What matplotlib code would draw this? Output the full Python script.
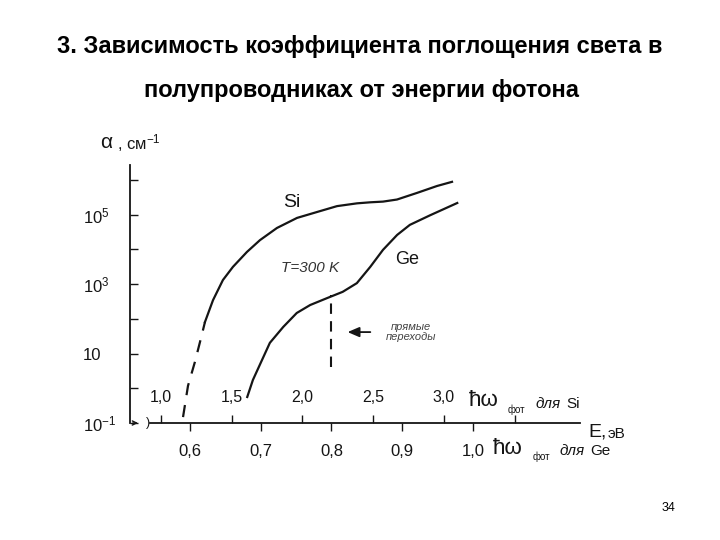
import matplotlib
matplotlib.use('Agg')
import matplotlib.pyplot as plt
import numpy as np
from matplotlib.ticker import NullLocator

plt.rcParams['font.family'] = ['Liberation Sans', 'DejaVu Sans']
plt.rcParams['mathtext.fontset'] = 'custom'
plt.rcParams['mathtext.rm'] = 'Liberation Sans'
plt.rcParams['mathtext.it'] = 'Liberation Sans:italic'

title1 = '3. Зависимость коэффициента поглощения света в'
title2 = 'полупроводниках от энергии фотона'

# Si: photon energy (eV) vs log10(alpha, cm^-1); dashed part near the edge
si_dash_e = [1.156, 1.191, 1.240, 1.290, 1.311]
si_dash_lg = [-0.83, 0.07, 0.76, 1.56, 1.91]
si_e = [1.311, 1.368, 1.438, 1.509, 1.608, 1.700, 1.820, 1.962, 2.103,
        2.245, 2.386, 2.480, 2.570, 2.669, 2.810, 2.952, 3.058]
si_lg = [1.91, 2.54, 3.12, 3.50, 3.93, 4.27, 4.62, 4.91, 5.08,
         5.25, 5.33, 5.36, 5.38, 5.44, 5.63, 5.83, 5.95]

# Ge: photon energy (eV, lower scale) vs log10(alpha)
ge_e = [0.681, 0.689, 0.702, 0.713, 0.732, 0.751, 0.770, 0.794,
        0.816, 0.836, 0.855, 0.873, 0.893, 0.911, 0.940, 0.978]
ge_lg = [-0.25, 0.24, 0.82, 1.31, 1.77, 2.17, 2.40, 2.60,
         2.78, 3.03, 3.50, 3.99, 4.42, 4.71, 4.99, 5.34]

# direct transitions marker (Ge)
direct_e = [0.8, 0.8]
direct_lg = [0.61, 2.69]

si_ticks = [1.0, 1.5, 2.0, 2.5, 3.0, 3.5]
si_labels = ['1,0', '1,5', '2,0', '2,5', '3,0', '']
ge_ticks = [0.6, 0.7, 0.8, 0.9, 1.0]
ge_labels = ['0,6', '0,7', '0,8', '0,9', '1,0']
y_ticks = [-1, 0, 1, 2, 3, 4, 5, 6]
y_labels = ['$10^{-1}$', '', '10', '', '$10^3$', '', '$10^5$', '']


def ge_to_si(e):
    return 5.0 * np.asarray(e) - 1.795


def si_to_ge(e):
    return (np.asarray(e) + 1.795) / 5.0


def px(x, y):
    return x / 720, 1 - y / 540


k = '#151515'
fig = plt.figure(figsize=(7.2, 5.4), dpi=100)
ax = fig.add_axes([130 / 720, 1 - 423 / 540, 450 / 720, 258 / 540])
ax.set_yscale('log')
ax.set_xlim(0.781, 3.963)
ax.set_ylim(0.1, 10 ** 6.435)
for s in ['top', 'right', 'bottom']:
    ax.spines[s].set_visible(False)
ax.spines['left'].set_color(k)
ax.spines['left'].set_linewidth(1.3)

# curves
ax.plot(si_dash_e, 10 ** np.array(si_dash_lg), color=k, lw=1.6, dashes=(5.5, 4.5))
ax.plot(si_e, 10 ** np.array(si_lg), color=k, lw=1.6)
ax.plot(ge_to_si(ge_e), 10 ** np.array(ge_lg), color=k, lw=1.6)
ax.plot(ge_to_si(direct_e), 10 ** np.array(direct_lg), color=k, lw=1.5, dashes=(5, 3.5))

ax.annotate('', xy=(2.30, 10 ** 1.62), xytext=(2.50, 10 ** 1.62),
            arrowprops=dict(arrowstyle='-|>,head_length=0.7,head_width=0.3',
                            color=k, lw=1.3))

# annotations
ax.text(1.927, 10 ** 5.34, 'Si', fontsize=14, ha='center', va='center', color=k)
ax.text(2.74, 10 ** 3.70, 'Ge', fontsize=13, ha='center', va='center', color=k)
ax.text(2.054, 10 ** 3.47, 'T=300 K', fontsize=11, style='italic',
        ha='center', va='center', color='#333333')
ax.text(2.768, 10 ** 1.62, 'прямые\nпереходы', fontsize=8, style='italic',
        ha='center', va='center', linespacing=1.1, color='#444444')

# Si scale (ticks up, labels above axis)
ax.set_xticks(si_ticks, si_labels)
ax.tick_params(axis='x', direction='in', length=6, width=1, pad=-24,
               labelsize=11.5, colors=k)

# y axis
ax.set_yticks([10.0 ** v for v in y_ticks], y_labels)
ax.yaxis.set_minor_locator(NullLocator())
ax.tick_params(axis='y', direction='in', length=6, width=1, pad=34,
               labelsize=12, colors=k)
for lab in ax.get_yticklabels():
    lab.set_ha('left')

# Ge scale (ticks down, labels below axis)
sec = ax.secondary_xaxis('bottom', functions=(si_to_ge, ge_to_si))
sec.set_xticks(ge_ticks, ge_labels)
sec.tick_params(direction='out', length=6, width=1, pad=9, labelsize=12, colors=k)
sec.spines['bottom'].set_visible(False)

# axis line with break near origin
ax.plot([0.045, 1.0], [0, 0], transform=ax.transAxes, color=k, lw=1.3, clip_on=False)
ax.annotate('', xy=(0.024, 0), xytext=(0, 0), xycoords='axes fraction',
            arrowprops=dict(arrowstyle='->,head_length=0.3,head_width=0.15', lw=1, color=k))
ax.text(0.039, 0, ')', transform=ax.transAxes, ha='center', va='center', fontsize=9, color=k)

# axis titles
fig.text(*px(100, 142), 'α', fontsize=15, ha='left', va='center', color=k)
fig.text(*px(117, 143), ', см$^{-1}$', fontsize=12, ha='left', va='center', color=k)
fig.text(*px(588, 432), 'E,', fontsize=14, ha='left', va='center', color=k)
fig.text(*px(608, 434), 'эВ', fontsize=11, ha='left', va='center', color=k)

fig.text(*px(469, 401), 'ħω', fontsize=16, ha='left', va='center', color=k)
fig.text(*px(508, 410), 'фот', fontsize=7, ha='left', va='center', color=k)
fig.text(*px(536, 404), 'для', fontsize=11, style='italic', ha='left', va='center', color=k)
fig.text(*px(566, 404), 'Si', fontsize=11, ha='left', va='center', color=k)

fig.text(*px(493, 448), 'ħω', fontsize=16, ha='left', va='center', color=k)
fig.text(*px(533, 457), 'фот', fontsize=7, ha='left', va='center', color=k)
fig.text(*px(560, 451), 'для', fontsize=11, style='italic', ha='left', va='center', color=k)
fig.text(*px(590, 451), 'Ge', fontsize=11, ha='left', va='center', color=k)

# slide title and page number
fig.text(*px(360, 47), title1, fontsize=17, weight='bold', ha='center', va='center')
fig.text(*px(362, 90), title2, fontsize=17, weight='bold', ha='center', va='center')
fig.text(*px(669, 508), '34', fontsize=9, ha='center', va='center')

plt.savefig('out.png', dpi=100)
